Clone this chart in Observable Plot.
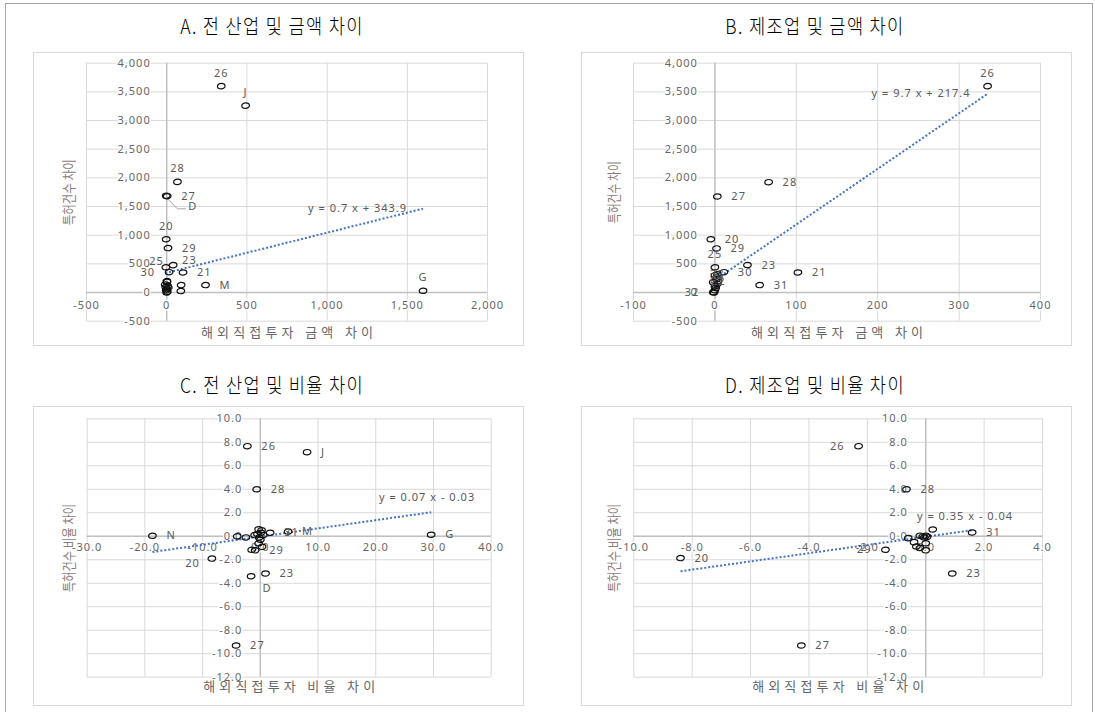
<!DOCTYPE html>
<html>
<head>
<meta charset="utf-8">
<script src="https://cdn.jsdelivr.net/npm/d3@7"></script>
<script src="https://cdn.jsdelivr.net/npm/@observablehq/plot@0.6"></script>
<style>
  body { margin: 0; background: #fff; }
  #fig { position: relative; width: 1095px; height: 712px; overflow: hidden;
         font-family: 'Noto Sans CJK KR', 'Noto Sans', sans-serif; }
  .outer { position: absolute; left: 5px; top: 3px; width: 1088px; height: 730px;
           border: 1px solid #a6a6a6; box-sizing: border-box; }
  .box { position: absolute; border: 1px solid #d9d9d9; box-sizing: border-box; }
  .ptitle { position: absolute; font-size: 20px; font-weight: 300; color: #000; white-space: nowrap;
            letter-spacing: 1.5px; transform: translate(-50%, -50%) scaleX(0.88); line-height: 1; }
  #fig svg { position: absolute; }
</style>
</head>
<body>
<div id="fig"><div class="outer"></div></div>
<script>
// ---- A. 전 산업, 금액 차이 (FDI amount diff vs. patent count diff) ----
const labelsA = ["26", "J", "28", "27", "D", "20", "29", "25", "23", "30", "21", "M", "G",
                 "", "", "", "", "", "", "", "", "", "", "", ""];
const fdiA = [340, 492, 67, 3, -3, -3, 8, -5, 40, 15, 102, 242, 1598,
              2, 90, 88, -6, 0, 4, -9, 10, 0, -3, 6, 1];
const patA = [3600, 3260, 1930, 1680, 1690, 930, 775, 440, 478, 355, 350, 130, 30,
              185, 130, 25, 95, 60, 15, 140, 85, 0, 40, 115, 200];
const slopeA = 0.7, interceptA = 343.9;
const xTicksA = [-500, 0, 500, 1000, 1500, 2000];
const yTicksA = [-500, 0, 500, 1000, 1500, 2000, 2500, 3000, 3500, 4000];

// ---- B. 제조업, 금액 차이 ----
const labelsB = ["26", "28", "27", "20", "29", "25", "23", "21", "30", "31", "32", "33", "24", "22",
                 "", "", "", "", "", "", "", ""];
const fdiB = [335, 66, 3, -5, 2, 0, 40, 102, 11, 55, -2, 3, 2, 4,
              0, 2, -2, 3, 0, 1, 0, -1];
const patB = [3600, 1925, 1675, 930, 770, 440, 480, 350, 355, 130, 5, 320, 260, 200,
              300, 230, 180, 150, 110, 80, 40, 0];
const slopeB = 9.7, interceptB = 217.4;
const xTicksB = [-100, 0, 100, 200, 300, 400];
const yTicksB = [-500, 0, 500, 1000, 1500, 2000, 2500, 3000, 3500, 4000];

// ---- C. 전 산업, 비율 차이 ----
const labelsC = ["26", "J", "28", "N", "G", "20", "23", "D", "27", "29", "31", "M",
                 "", "", "", "", "", "", "", "", "", "", "", "", ""];
const fdiC = [-2.25, 8.1, -0.64, -18.7, 29.6, -8.4, 0.9, -1.6, -4.2, -0.9, 1.7, 4.8,
              -4.0, -2.5, -1.5, -0.3, 0.2, -0.5, 0.0, -0.3, 0.3, -1.0, 0.5, -0.2, 0.1];
const patC = [7.67, 7.16, 4.0, 0.04, 0.13, -1.9, -3.17, -3.4, -9.3, -1.2, 0.3, 0.4,
              0.0, -0.1, -1.15, 0.6, 0.5, 0.2, -0.3, -0.6, -0.9, 0.1, 0.1, -0.1, 0.3];
const slopeC = 0.07, interceptC = -0.03;
const xTicksC = [-30, -20, -10, 0, 10, 20, 30, 40];
const yTicksC = [-12, -10, -8, -6, -4, -2, 0, 2, 4, 6, 8, 10];

// ---- D. 제조업, 비율 차이 ----
const labelsD = ["26", "28", "20", "27", "23", "31", "29",
                 "", "", "", "", "", "", "", "", "", "", "", ""];
const fdiD = [-2.3, -0.66, -8.4, -4.26, 0.91, 1.59, -1.38,
              0.24, -0.6, -0.4, -0.2, 0, 0, -0.1, 0, -0.05, 0.05, -0.2, -0.32];
const patD = [7.67, 4.0, -1.86, -9.3, -3.17, 0.32, -1.15,
              0.58, -0.16, -0.5, -1.0, -1.2, -0.6, 0, 0.05, -0.1, -0.05, 0.05, -0.87];
const slopeD = 0.35, interceptD = -0.04;
const xTicksD = [-10, -8, -6, -4, -2, 0, 2, 4];
const yTicksD = [-12, -10, -8, -6, -4, -2, 0, 2, 4, 6, 8, 10];

const titles = ["A. 전 산업 및 금액 차이", "B. 제조업 및 금액 차이",
                "C. 전 산업 및 비율 차이", "D. 제조업 및 비율 차이"];
const xTitleAmt = "해외직접투자 금액 차이";
const xTitleRat = "해외직접투자 비율 차이";
const yTitleAmt = "특허건수 차이";
const yTitleRat = "특허건수 비율 차이";

// where each data label sits relative to its marker (default: right)
const labelOffsets = {
  right:      {dx: 14, textAnchor: "start"},
  left:       {dx: -14, textAnchor: "end"},
  top:        {dy: -13, textAnchor: "middle"},
  topleft:    {dx: -2, dy: -6, textAnchor: "end"},
  topright:   {dx: 9, dy: -5, textAnchor: "start"},
  bottom:     {dx: 16, dy: 12, textAnchor: "middle"},
  bottomleft: {dx: -12, dy: 5, textAnchor: "end"},
  center:     {textAnchor: "middle"},
  leader:     {dx: 22, dy: 11, textAnchor: "start"}
};
const placeA = {"26": "top", "J": "top", "28": "top", "20": "top", "G": "top",
                "25": "topleft", "23": "topright", "30": "left", "D": "leader"};
const placeB = {"26": "top", "25": "top", "32": "left", "33": "center", "24": "center", "22": "center"};
const placeC = {"20": "bottomleft", "D": "bottom"};
const placeD = {"26": "left", "29": "left"};

// hollow, slightly flattened marker
const ovalSymbol = {
  draw(ctx, size) {
    const r = Math.sqrt(size / Math.PI), rx = r, ry = r * 0.7, k = 0.5523;
    ctx.moveTo(rx, 0);
    ctx.bezierCurveTo(rx, ry * k, rx * k, ry, 0, ry);
    ctx.bezierCurveTo(-rx * k, ry, -rx, ry * k, -rx, 0);
    ctx.bezierCurveTo(-rx, -ry * k, -rx * k, -ry, 0, -ry);
    ctx.bezierCurveTo(rx * k, -ry, rx, -ry * k, rx, 0);
    ctx.closePath();
  }
};

const fmtComma = v => v.toLocaleString("en-US");
const fmtFixed = v => v.toFixed(1);
const fig = document.getElementById("fig");

function drawPanel(c) {
  const rows = c.labels.map((label, i) => ({label, x: c.xs[i], y: c.ys[i]}));
  const [xmin, xmax] = d3.extent(rows, d => d.x);
  const trend = [xmin, xmax].map(x => ({x, y: c.slope * x + c.intercept}));
  const eq = [{
    x: trend[1].x, y: trend[1].y,
    t: `y = ${c.slope} x ${c.intercept < 0 ? "-" : "+"} ${Math.abs(c.intercept)}`
  }];

  const labelMarks = Object.entries(labelOffsets).map(([key, opt]) =>
    Plot.text(rows.filter(d => d.label && (c.place[d.label] || "right") === key), {
      x: "x", y: "y", text: "label", fill: "#595959", fontSize: 11, ...opt
    }));

  const extra = [];
  if (c.leaderFor) {
    const p = rows.find(d => d.label === c.leaderFor);
    extra.push(Plot.line([
      {x: p.x + 10, y: p.y - 60}, {x: p.x + 70, y: p.y - 230}, {x: p.x + 120, y: p.y - 230}
    ], {x: "x", y: "y", stroke: "#a6a6a6", strokeWidth: 1}));
  }

  const svg = Plot.plot({
    width: c.w, height: c.h,
    marginLeft: c.ml, marginRight: c.mr, marginTop: c.mt, marginBottom: c.mb,
    x: {domain: c.xDomain, axis: null},
    y: {domain: c.yDomain, axis: null},
    style: {fontFamily: "'Noto Sans', 'Noto Sans CJK KR', sans-serif", fontSize: "11px",
            background: "transparent", overflow: "visible", letterSpacing: "1px"},
    marks: [
      Plot.ruleX(c.xTicks, {stroke: "#d9d9d9", strokeWidth: 1}),
      Plot.ruleY(c.yTicks, {stroke: "#d9d9d9", strokeWidth: 1}),
      Plot.ruleX([0], {stroke: "#bfbfbf", strokeWidth: 1.4}),
      Plot.ruleY([0], {stroke: "#bfbfbf", strokeWidth: 1.4}),
      Plot.text(c.yTicks, {x: 0, y: d => d, text: c.fmt, dx: c.tdx, textAnchor: "end",
        fill: "#666", stroke: "white", strokeWidth: 3, fontSize: 11}),
      Plot.text(c.xTicks, {x: d => d, y: 0, text: c.fmt, dy: c.tdy, textAnchor: "middle",
        fill: "#666", stroke: "white", strokeWidth: 3, fontSize: 11}),
      Plot.line(trend, {x: "x", y: "y", stroke: "#4472C4", strokeWidth: 2,
        strokeDasharray: "2,2", strokeLinecap: "butt"}),
      Plot.text(eq, {x: "x", y: "y", text: "t", dx: c.edx, dy: c.edy, textAnchor: "end",
        fill: "#595959", fontSize: 11}),
      ...extra,
      Plot.dot(rows, {x: "x", y: "y", symbol: ovalSymbol, r: 3.8, stroke: "#111",
        strokeWidth: 1.2, fill: "none"}),
      ...labelMarks,
      Plot.text([c.yTitle], {frameAnchor: "left", rotate: -90, textAnchor: "middle",
        lineAnchor: "middle", dx: c.ydx, fill: "#8c7b7b", fontSize: 13.5}),
      Plot.text([c.xTitle], {frameAnchor: "bottom", textAnchor: "middle", lineAnchor: "middle",
        dy: c.xdy, fill: "#666", fontSize: 13})
    ]
  });
  // axis titles: condensed vertical title, evenly spaced horizontal title
  d3.select(svg).selectAll("text").filter(function () {
    return this.textContent === c.xTitle;
  }).attr("letter-spacing", "0px").attr("textLength", 172).attr("lengthAdjust", "spacing");
  d3.select(svg).selectAll("text").filter(function () {
    return this.textContent === c.yTitle;
  }).attr("letter-spacing", "0px").attr("textLength", c.yLen).attr("lengthAdjust", "spacingAndGlyphs");
  svg.style.left = c.left + "px";
  svg.style.top = c.top + "px";

  const box = document.createElement("div");
  box.className = "box";
  Object.assign(box.style, {left: c.left + "px", top: c.top + "px", width: c.w + "px", height: c.h + "px"});
  fig.appendChild(box);
  fig.appendChild(svg);

  const t = document.createElement("div");
  t.className = "ptitle";
  t.textContent = c.title;
  Object.assign(t.style, {left: c.tx + "px", top: c.ty + "px"});
  fig.appendChild(t);
}

drawPanel({labels: labelsA, xs: fdiA, ys: patA, slope: slopeA, intercept: interceptA,
  xTicks: xTicksA, yTicks: yTicksA, xDomain: [-500, 2000], yDomain: [-500, 4000], fmt: fmtComma,
  place: placeA, leaderFor: "D", title: titles[0], xTitle: xTitleAmt, yTitle: yTitleAmt, yLen: 66,
  left: 33, top: 52, w: 491, h: 294, ml: 53, mr: 37, mt: 10.7, mb: 25.3,
  tdx: -16, tdy: 13, edx: -16, edy: 0, ydx: -17, xdy: 11.5, tx: 272, ty: 26});

drawPanel({labels: labelsB, xs: fdiB, ys: patB, slope: slopeB, intercept: interceptB,
  xTicks: xTicksB, yTicks: yTicksB, xDomain: [-100, 400], yDomain: [-500, 4000], fmt: fmtComma,
  place: placeB, title: titles[1], xTitle: xTitleAmt, yTitle: yTitleAmt, yLen: 62,
  left: 581, top: 52, w: 491, h: 294, ml: 52, mr: 32, mt: 10.7, mb: 25.3,
  tdx: -17, tdy: 13, edx: -17, edy: 0, ydx: -19, xdy: 11.5, tx: 815, ty: 26});

drawPanel({labels: labelsC, xs: fdiC, ys: patC, slope: slopeC, intercept: interceptC,
  xTicks: xTicksC, yTicks: yTicksC, xDomain: [-30, 40], yDomain: [-12, 10], fmt: fmtFixed,
  place: placeC, title: titles[2], xTitle: xTitleRat, yTitle: yTitleRat, yLen: 88,
  left: 33, top: 406, w: 491, h: 300, ml: 53.7, mr: 33.3, mt: 12.3, mb: 29.3,
  tdx: -18, tdy: 11.5, edx: 44, edy: -14.5, ydx: -18, xdy: 10, tx: 272, ty: 385});

drawPanel({labels: labelsD, xs: fdiD, ys: patD, slope: slopeD, intercept: interceptD,
  xTicks: xTicksD, yTicks: yTicksD, xDomain: [-10, 4], yDomain: [-12, 10], fmt: fmtFixed,
  place: placeD, title: titles[3], xTitle: xTitleRat, yTitle: yTitleRat, yLen: 88,
  left: 581, top: 406, w: 491, h: 300, ml: 52.3, mr: 30, mt: 12.3, mb: 29.3,
  tdx: -18, tdy: 11.5, edx: 41, edy: -14, ydx: -19, xdy: 10, tx: 815, ty: 385});
</script>
</body>
</html>
